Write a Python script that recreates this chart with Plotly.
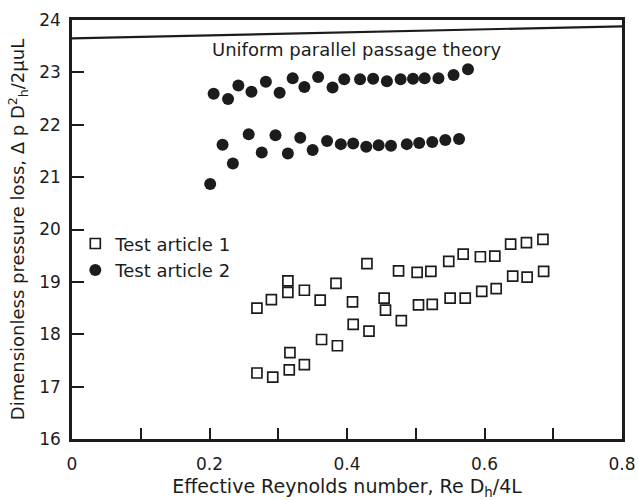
import plotly.graph_objects as go

# ---- data ----
sq_x = [0.269, 0.290, 0.314, 0.314, 0.338, 0.361, 0.384, 0.408, 0.429, 0.454, 0.456, 0.475,
        0.479, 0.502, 0.522, 0.504, 0.524, 0.409, 0.432, 0.363, 0.386, 0.317, 0.269, 0.292,
        0.316, 0.338, 0.548, 0.569, 0.594, 0.615, 0.638, 0.661, 0.685, 0.550, 0.572, 0.596,
        0.617, 0.641, 0.662, 0.686]
sq_y = [18.50, 18.66, 19.02, 18.80, 18.84, 18.65, 18.97, 18.62, 19.35, 18.69, 18.46, 19.21,
        18.26, 19.18, 19.20, 18.56, 18.57, 18.19, 18.06, 17.90, 17.78, 17.65, 17.26, 17.18,
        17.32, 17.42, 19.39, 19.53, 19.48, 19.49, 19.72, 19.75, 19.81, 18.69, 18.69, 18.82,
        18.87, 19.11, 19.09, 19.20]

ci_x = [0.206, 0.227, 0.242, 0.261, 0.282, 0.302, 0.321, 0.338, 0.358, 0.379, 0.396, 0.419,
        0.438, 0.458, 0.478, 0.496, 0.513, 0.533, 0.555, 0.576,
        0.201, 0.219, 0.234, 0.257, 0.276, 0.296, 0.314, 0.332, 0.350, 0.371, 0.391, 0.409,
        0.428, 0.446, 0.464, 0.487, 0.505, 0.524, 0.543, 0.563]
ci_y = [22.59, 22.49, 22.75, 22.63, 22.82, 22.61, 22.89, 22.72, 22.91, 22.71, 22.87, 22.87,
        22.88, 22.83, 22.87, 22.88, 22.89, 22.89, 22.95, 23.06,
        20.87, 21.62, 21.26, 21.82, 21.47, 21.80, 21.45, 21.75, 21.52, 21.69, 21.63, 21.64,
        21.58, 21.61, 21.60, 21.63, 21.65, 21.67, 21.71, 21.73]

theory_x = [0.0, 0.8]
theory_y = [23.65, 23.88]

x_ticks = [0, 0.2, 0.4, 0.6, 0.8]
x_labels = ["0", "0.2", "0.4", "0.6", "0.8"]
y_ticks = [16, 17, 18, 19, 20, 21, 22, 23, 24]

INK = "#1c1c1c"
FONT = "DejaVu Sans"

fig = go.Figure()
fig.add_trace(go.Scatter(x=theory_x, y=theory_y, mode="lines",
                         line=dict(color=INK, width=2.2), showlegend=False, hoverinfo="skip"))
fig.add_trace(go.Scatter(x=sq_x, y=sq_y, mode="markers", name="Test article 1",
                         marker=dict(symbol="square-open", size=10, color=INK,
                                     line=dict(width=1.7, color=INK))))
fig.add_trace(go.Scatter(x=ci_x, y=ci_y, mode="markers", name="Test article 2",
                         marker=dict(symbol="circle", size=12, color=INK)))

fig.add_annotation(x=0.414, y=23.43, xref="x", yref="y", text="Uniform parallel passage theory",
                   showarrow=False, font=dict(family=FONT, size=18, color=INK))

axis_common = dict(showline=True, linewidth=2.5, linecolor=INK, mirror=True,
                   showgrid=False, zeroline=False, ticks="inside", tickwidth=2,
                   tickcolor=INK, tickfont=dict(family=FONT, size=17, color=INK))

fig.update_xaxes(range=[0, 0.8], tickvals=x_ticks, ticktext=x_labels, ticklen=11,
                 ticklabelstandoff=8,
                 minor=dict(dtick=0.1, ticks="inside", ticklen=11, tickwidth=2, tickcolor=INK),
                 title=dict(text="Effective Reynolds number, Re D<sub>h</sub>/4L",
                            font=dict(family=FONT, size=19, color=INK), standoff=8),
                 **axis_common)
fig.update_yaxes(range=[16, 24], tickvals=y_ticks, ticklen=12, ticklabelstandoff=5,
                 title=dict(text="Dimensionless pressure loss, Δ p D<sup>2</sup><sub>h</sub>/2μuL",
                            font=dict(family=FONT, size=18, color=INK), standoff=10),
                 **axis_common)

fig.update_layout(
    width=638, height=500,
    margin=dict(l=72, r=16, t=20, b=61, autoexpand=False),
    plot_bgcolor="white", paper_bgcolor="white",
    font=dict(family=FONT, color=INK),
    legend=dict(x=0.006, y=0.51, xanchor="left", yanchor="top", bgcolor="rgba(0,0,0,0)",
                font=dict(family=FONT, size=18, color=INK), itemwidth=30),
)

fig.write_html("out.html")
